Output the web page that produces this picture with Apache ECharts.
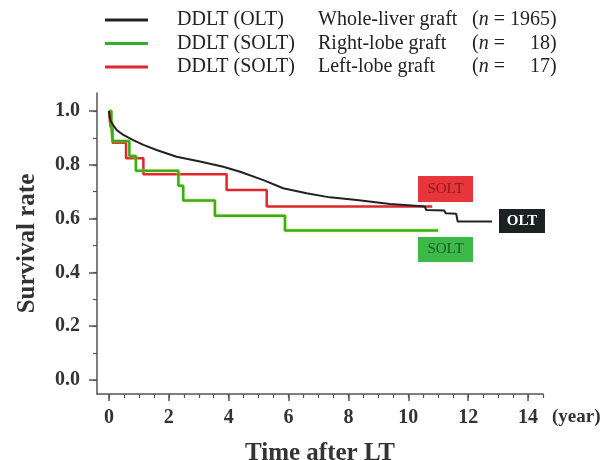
<!DOCTYPE html>
<html>
<head>
<meta charset="utf-8">
<script src="https://cdn.jsdelivr.net/npm/echarts@6/dist/echarts.min.js"></script>
<style>
html,body{margin:0;padding:0;background:#fff;}
#chart{width:616px;height:460px;}
</style>
</head>
<body>
<div id="chart"></div>
<script>
// ---- data ----
const oltTime = [0, 0.05, 0.14, 0.26, 0.48, 0.81, 1.15, 1.59, 2.26, 3.04, 3.82, 4.38, 5.16, 5.82, 6.6, 7.38, 8.28, 9.39, 10.0, 10.55, 10.6, 11.2, 11.25, 11.6, 11.65, 12.8];
const oltSurv = [1.0, 0.965, 0.948, 0.929, 0.911, 0.892, 0.874, 0.855, 0.830, 0.812, 0.793, 0.774, 0.743, 0.713, 0.694, 0.679, 0.669, 0.654, 0.650, 0.645, 0.632, 0.630, 0.620, 0.618, 0.589, 0.589];

const rightTime = [0, 0.08, 0.12, 0.68, 0.9, 2.32, 2.48, 3.54, 5.88, 11.0];
const rightSurv = [1.0, 0.944, 0.889, 0.833, 0.778, 0.722, 0.667, 0.611, 0.556, 0.556];

const leftTime = [0, 0.05, 0.12, 0.57, 1.15, 3.93, 5.27, 10.8];
const leftSurv = [1.0, 0.941, 0.882, 0.824, 0.765, 0.706, 0.645, 0.645];

const seriesNames = ['Whole-liver graft', 'Right-lobe graft', 'Left-lobe graft'];
const legendGroups = ['DDLT (OLT)', 'DDLT (SOLT)', 'DDLT (SOLT)'];
const legendN = ['1965', '18', '17'];

const xMajorTicks = [0, 2, 4, 6, 8, 10, 12, 14];
const xMinorTicks = [0, 0.5, 1, 1.5, 2, 2.5, 3, 3.5, 4, 4.5, 5, 5.5, 6, 6.5, 7, 7.5, 8, 8.5, 9, 9.5, 10, 10.5, 11, 11.5, 12, 12.5, 13, 13.5, 14, 14.5];
const yMajorTicks = [0, 0.2, 0.4, 0.6, 0.8, 1.0];
const yMinorTicks = [0, 0.1, 0.2, 0.3, 0.4, 0.5, 0.6, 0.7, 0.8, 0.9, 1.0];

const zip = (a, b) => a.map((t, i) => [t, b[i]]);

const FONT = 'Liberation Serif';
const axisColor = '#555';

const chart = echarts.init(document.getElementById('chart'), null, {renderer: 'canvas'});

const richBase = {fontFamily: FONT, fontSize: 20, color: '#222', lineHeight: 22};
chart.setOption({
  backgroundColor: '#fff',
  animation: false,
  grid: {left: 97, right: 73, top: 93, bottom: 66, containLabel: false, outerBoundsMode: 'none'},
  legend: {
    orient: 'vertical',
    left: 100,
    top: 5,
    itemWidth: 43,
    itemHeight: 3,
    itemGap: 3.5,
    icon: 'rect',
    data: seriesNames,
    textStyle: {
      padding: [0, 0, 0, 24], fontFamily: FONT, fontSize: 20, color: '#222',
      rich: {
        a: Object.assign({}, richBase, {width: 141}),
        b: Object.assign({}, richBase, {width: 154}),
        c: Object.assign({}, richBase),
        it: Object.assign({}, richBase, {fontStyle: 'italic'}),
        d: Object.assign({}, richBase, {width: 45, align: 'right'}),
        e: Object.assign({}, richBase, {align: 'right'})
      }
    },
    formatter: function (name) {
      const i = seriesNames.indexOf(name);
      return '{a|' + legendGroups[i] + '}{b|' + name + '}{c|(}{it|n}{c| =}{d|' + legendN[i] + '}{e|)}';
    }
  },
  xAxis: [{
    type: 'value', min: -0.4, max: 14.5,
    axisLine: {show: true, onZero: false, lineStyle: {color: axisColor, width: 1.5}},
    axisTick: {show: true, customValues: xMajorTicks, length: 7, lineStyle: {color: axisColor, width: 1.5}},
    axisLabel: {show: true, customValues: xMajorTicks, margin: 14, fontFamily: FONT, fontWeight: 'bold', fontSize: 20, color: '#333'},
    splitLine: {show: false},
    name: 'Time after LT', nameLocation: 'middle', nameGap: 47,
    nameTextStyle: {fontFamily: FONT, fontWeight: 'bold', fontSize: 25, color: '#333'}
  }, {
    type: 'value', min: -0.4, max: 14.5, position: 'bottom',
    axisLine: {show: false, onZero: false},
    axisTick: {show: true, customValues: xMinorTicks, length: 4, lineStyle: {color: axisColor, width: 1.2}},
    axisLabel: {show: false},
    splitLine: {show: false}
  }],
  yAxis: [{
    type: 'value', min: -0.052, max: 1.067, position: 'left',
    axisLine: {show: true, onZero: false, lineStyle: {color: axisColor, width: 1.5}},
    axisTick: {show: true, customValues: yMajorTicks, length: 8, lineStyle: {color: axisColor, width: 1.5}},
    axisLabel: {show: true, customValues: yMajorTicks, margin: 17, fontFamily: FONT, fontWeight: 'bold', fontSize: 20, color: '#333',
      formatter: v => v.toFixed(1)},
    splitLine: {show: false},
    name: 'Survival rate', nameLocation: 'middle', nameGap: 57,
    nameTextStyle: {fontFamily: FONT, fontWeight: 'bold', fontSize: 25, color: '#333'}
  }, {
    type: 'value', min: -0.052, max: 1.067, position: 'left', offset: 0,
    axisLine: {show: false, onZero: false},
    axisTick: {show: true, customValues: yMinorTicks, length: 4, lineStyle: {color: axisColor, width: 1.2}},
    axisLabel: {show: false},
    splitLine: {show: false}
  }],
  series: [{
    name: seriesNames[0], type: 'line', symbol: 'none', showSymbol: false,
    data: zip(oltTime, oltSurv),
    lineStyle: {color: '#222', width: 2}, itemStyle: {color: '#222'}, z: 4
  }, {
    name: seriesNames[1], type: 'line', step: 'end', symbol: 'none', showSymbol: false,
    data: zip(rightTime, rightSurv),
    lineStyle: {color: '#34ad2e', width: 2.5, shadowColor: 'rgba(215,225,0,0.9)', shadowBlur: 2}, itemStyle: {color: '#34ad2e'}, z: 3
  }, {
    name: seriesNames[2], type: 'line', step: 'end', symbol: 'none', showSymbol: false,
    data: zip(leftTime, leftSurv),
    lineStyle: {color: '#e0262e', width: 2.5}, itemStyle: {color: '#e0262e'}, z: 2
  }],
  graphic: [
    {type: 'rect', shape: {x: 418, y: 176, width: 55, height: 26}, style: {fill: '#e8353b'}, z: 10},
    {type: 'text', x: 445.5, y: 189, style: {text: 'SOLT', fill: '#8e1b1b', font: '15px "Liberation Serif"', textAlign: 'center', textVerticalAlign: 'middle'}, z: 11},
    {type: 'rect', shape: {x: 418, y: 237, width: 55, height: 25}, style: {fill: '#3db94a'}, z: 10},
    {type: 'text', x: 445.5, y: 249.5, style: {text: 'SOLT', fill: '#1c5a22', font: '15px "Liberation Serif"', textAlign: 'center', textVerticalAlign: 'middle'}, z: 11},
    {type: 'rect', shape: {x: 499, y: 209, width: 46, height: 24}, style: {fill: '#1c2222'}, z: 10},
    {type: 'text', x: 522, y: 221, style: {text: 'OLT', fill: '#fff', font: 'bold 15px "Liberation Serif"', textAlign: 'center', textVerticalAlign: 'middle'}, z: 11},
    {type: 'text', x: 552, y: 417, style: {text: '(year)', fill: '#333', font: 'bold 19px "Liberation Serif"', textAlign: 'left', textVerticalAlign: 'middle'}, z: 11}
  ]
});
</script>
</body>
</html>
